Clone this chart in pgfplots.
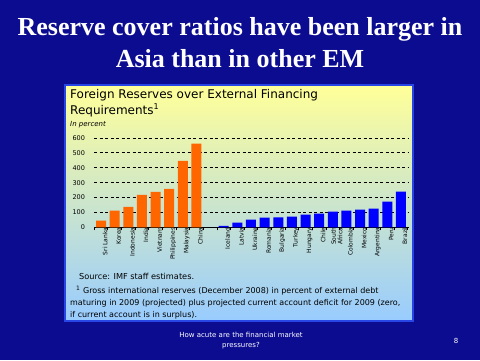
\documentclass[border=0pt]{standalone}
\usepackage{pgfplots}
\pgfplotsset{compat=1.18}
\usepackage{fontspec}
\setmainfont{DejaVu Sans}
\newfontfamily\titlefont{Liberation Serif}
\definecolor{slideblue}{RGB}{12,12,145}
\definecolor{slidedark}{RGB}{5,5,95}
\definecolor{asiaorange}{RGB}{255,102,0}
\definecolor{emblue}{RGB}{0,0,255}
\definecolor{paneltop}{RGB}{255,255,153}
\definecolor{panelbot}{RGB}{153,204,255}
\definecolor{panelborder}{RGB}{40,70,230}
\begin{document}
\begin{tikzpicture}
% slide background
\fill[slideblue] (0pt,0pt) rectangle (480pt,360pt);
% title
\node[anchor=base,text=white,inner sep=0pt] at (240pt,325pt) {\titlefont\bfseries\fontsize{26}{30}\selectfont Reserve cover ratios have been larger in};
\node[anchor=base,text=white,inner sep=0pt] at (240pt,293pt) {\titlefont\bfseries\fontsize{26}{30}\selectfont Asia than in other EM};
% panel
\shade[top color=paneltop, bottom color=panelbot] (66pt,40pt) rectangle (412pt,274pt);
\draw[panelborder,line width=2pt] (65pt,39pt) rectangle (413pt,275pt);
% panel texts
\node[anchor=base west,inner sep=0pt] at (70pt,262pt) {\fontsize{12}{14}\selectfont Foreign Reserves over External Financing};
\node[anchor=base west,inner sep=0pt] at (70pt,246pt) {\fontsize{12}{14}\selectfont Requirements\textsuperscript{1}};
\node[anchor=base west,inner sep=0pt] at (70pt,234pt) {\fontsize{7}{8}\selectfont\itshape In percent};
\node[anchor=base west,inner sep=0pt] at (79pt,81pt) {\fontsize{8.2}{9}\selectfont Source: IMF staff estimates.};
\node[anchor=base west,inner sep=0pt] at (76pt,67pt) {\fontsize{8}{9}\selectfont \textsuperscript{1} Gross international reserves (December 2008) in percent of external debt};
\node[anchor=base west,inner sep=0pt] at (70pt,55pt) {\fontsize{8}{9}\selectfont maturing in 2009 (projected) plus projected current account deficit for 2009 (zero,};
\node[anchor=base west,inner sep=0pt] at (70pt,43pt) {\fontsize{8}{9}\selectfont if current account is in surplus).};
% footer
\node[anchor=base,text=white,inner sep=0pt] at (241pt,23pt) {\fontsize{7}{8}\selectfont How acute are the financial market};
\node[anchor=base,text=white,inner sep=0pt] at (241pt,13pt) {\fontsize{7}{8}\selectfont pressures?};
\node[anchor=base,text=white,inner sep=0pt] at (456pt,17pt) {\fontsize{7}{8}\selectfont 8};
% chart
\begin{axis}[
  at={(94.2pt,132.7pt)}, anchor=south west,
  scale only axis, width=313.6pt, height=89.3pt,
  xmin=-0.5, xmax=22.5, ymin=0, ymax=600,
  axis lines*=left,
  y axis line style={draw=none},
  x axis line style={black, line width=1pt},
  ytick={0,100,...,600},
  ymajorgrids,
  grid style={black, dash pattern=on 3pt off 2.5pt, line width=0.8pt},
  xtick={0,...,22},
  xticklabels={Sri Lanka,Korea,Indonesia,India,Vietnam,Philippines,Malaysia,China,{},Iceland,Latvia,Ukraine,Romania,Bulgaria,Turkey,Hungary,Chile,{South\\Africa},Colombia,Mexico,Argentina,Peru,Brazil},
  minor xtick={-0.5,0.5,...,22.5},
  major tick length=0pt,
  minor tick length=3pt,
  tick align=outside,
  minor tick style={black, line width=0.8pt},
  xticklabel style={rotate=90, anchor=east, align=center, inner sep=0pt, yshift=-4pt, font=\fontsize{6}{6.5}\selectfont},
  yticklabel style={anchor=east, inner sep=0pt, xshift=-9pt, font=\fontsize{6.5}{7}\selectfont},
  /pgf/number format/assume math mode=true,
  clip=false,
]
\addplot[ybar, bar shift=0pt, bar width=10pt, fill=asiaorange, draw=none]
  coordinates {(0,45)(1,112)(2,137)(3,218)(4,238)(5,258)(6,447)(7,562)};
\addplot[ybar, bar shift=0pt, bar width=10pt, fill=emblue, draw=none]
  coordinates {(9,10)(10,31)(11,51)(12,65)(13,66)(14,72)(15,85)(16,92)(17,105)(18,112)(19,119)(20,125)(21,173)(22,240)};
\end{axis}
\end{tikzpicture}
\end{document}
